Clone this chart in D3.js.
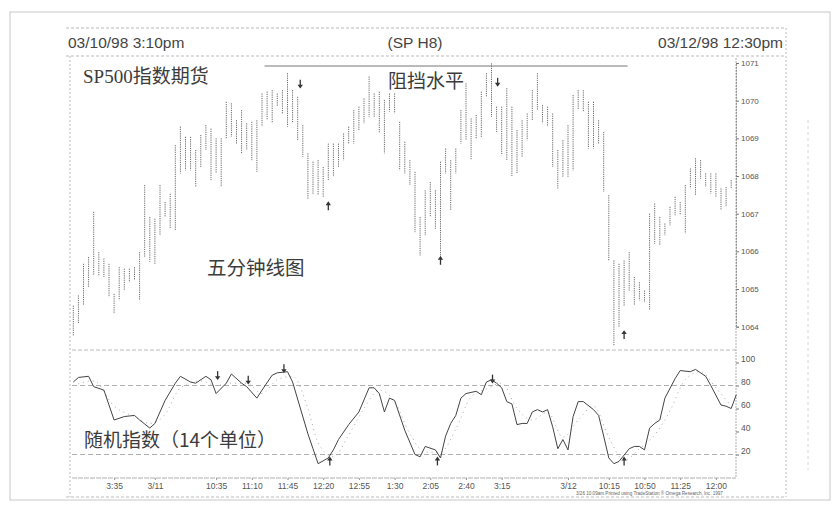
<!DOCTYPE html>
<html><head><meta charset="utf-8">
<script src="https://cdn.jsdelivr.net/npm/d3@7"></script>
<style>body{margin:0;background:#fff}svg{display:block}</style>
</head><body><svg id="c" width="840" height="513"></svg>
<script>
// ---------------- DATA ----------------
const highs = [
1064.56,1064.83,1065.67,1065.85,1067.05,1065.98,1065.81,1065.67,1064.87,1065.58,
1065.54,1065.54,1065.58,1065.98,1067.76,1066.91,1066.87,1067.76,1067.31,1067.53,
1068.82,1069.31,1069.04,1069.04,1068.69,1069.09,1069.35,1069.26,1069.00,1069.00,
1069.97,1069.93,1069.48,1069.75,1069.40,1069.44,1069.48,1070.19,1070.24,1070.28,
1070.19,1070.28,1070.73,1070.28,1070.10,1069.35,1068.60,1068.38,1068.42,1068.24,
1068.86,1068.86,1068.86,1069.13,1069.31,1069.75,1069.84,1070.06,1070.64,1070.19,
1070.24,1070.02,1070.19,1070.19,1069.44,1068.91,1068.42,1068.11,1066.91,1067.62,
1067.84,1067.62,1068.38,1068.73,1068.42,1068.73,1069.75,1070.46,1069.53,1069.62,
1070.24,1070.73,1070.99,1069.84,1069.84,1070.33,1069.84,1069.22,1069.48,1069.66,
1070.28,1070.73,1069.88,1069.84,1069.66,1068.69,1068.95,1069.35,1070.15,1070.28,
1070.28,1069.97,1069.97,1069.48,1069.17,1067.49,1065.76,1065.67,1065.76,1065.98,
1065.32,1065.18,1064.96,1067.00,1067.27,1066.91,1066.74,1067.18,1067.45,1067.31,
1067.76,1068.20,1068.47,1068.42,1068.07,1068.07,1068.07,1067.67,1067.71,1067.89];
const lows = [
1063.77,1064.08,1064.56,1065.05,1065.36,1065.36,1065.32,1064.79,1064.34,1064.70,
1064.96,1065.18,1065.23,1064.70,1065.85,1065.72,1065.67,1066.43,1066.91,1066.60,
1066.56,1068.07,1068.15,1068.15,1067.71,1068.24,1068.69,1067.89,1068.07,1067.71,
1069.00,1069.04,1068.86,1068.60,1068.69,1068.42,1068.11,1069.31,1069.48,1069.40,
1069.84,1069.66,1069.31,1069.40,1068.95,1068.51,1067.40,1067.53,1067.49,1067.45,
1067.89,1067.98,1068.24,1068.42,1068.86,1068.86,1069.22,1069.40,1069.57,1069.57,
1069.13,1068.60,1069.71,1069.66,1068.15,1068.07,1067.76,1066.51,1065.89,1066.43,
1066.91,1066.60,1065.85,1068.07,1067.09,1068.07,1068.86,1068.95,1068.42,1069.00,
1069.04,1070.10,1069.57,1069.17,1068.55,1068.42,1067.98,1068.07,1068.51,1068.95,
1069.48,1069.75,1069.40,1069.31,1068.24,1067.67,1067.98,1067.98,1068.15,1069.75,
1069.71,1068.73,1068.73,1068.86,1067.58,1065.76,1063.50,1063.99,1064.56,1064.96,
1064.56,1064.70,1064.65,1064.43,1066.20,1066.16,1066.43,1066.69,1066.96,1066.96,
1066.47,1067.67,1067.49,1067.93,1067.71,1067.53,1067.45,1067.09,1067.18,1067.67];

// stochastic %K (bar index, value)
const kIdx = [0,1,3,4,6,8,10,12,13,15,16,18,20,21,23,24,26,27,28,30,31,33,34,36,37,39,40,42,43,46,47,48,50,51,52,54,56,58,59,60,61,62,63,65,67,68,69,71,72,73,74,75,76,77,79,80,81,82,83,84,85,86,87,88,89,90,91,92,93,94,95,96,97,98,99,100,102,103,104,105,106,107,109,110,111,112,113,114,115,116,118,119,121,122,124,125,127,128,129,130];
const kVal = [83,87,88,79,76,50,53,54,50,43,47,67,82,88,83,82,88,85,73,82,90,82,79,69,76,89,91,92,83,38,25,12,17,24,33,46,57,78,78,73,57,69,67,41,20,18,27,24,17,36,47,54,69,73,75,72,83,85,82,78,66,64,46,47,47,57,59,57,59,44,25,33,24,53,66,66,59,54,36,17,12,14,25,27,27,24,43,47,50,69,86,93,92,94,88,80,63,62,60,72];
// stochastic %D (bar index, value)
const dIdx = [0,4,8,12,15,18,21,25,28,31,34,37,40,43,46,48,51,54,57,60,63,66,69,72,75,78,81,84,87,90,93,96,99,102,105,108,111,114,117,120,123,126,129];
const dVal = [80,84,62,53,47,55,78,84,80,82,82,73,85,88,60,30,18,37,60,76,66,38,22,22,42,70,77,82,60,50,57,35,50,62,35,15,25,37,58,85,92,78,62];

const priceTicks = [1064,1065,1066,1067,1068,1069,1070,1071];
const stochTicks = [20,40,60,80,100];
const timeTickIdx = [8,16,28,35,42,49,56,63,70,77,84,97,105,112,119,126];
const timeTickLbl = ["3:35","3/11","10:35","11:10","11:45","12:20","12:55","1:30","2:05","2:40","3:15","3/12","10:15","10:50","11:25","12:00"];

const resistance = {from:37.5, to:108.7, price:1070.92};
const priceArrows = [{i:44.5,p:1070.45,dir:"down"},{i:50,p:1067.2,dir:"up"},{i:72,p:1065.75,dir:"up"},{i:83.2,p:1070.5,dir:"down"},{i:108,p:1063.78,dir:"up"}];
const stochArrows = [{i:28.3,v:89,dir:"down"},{i:34.3,v:85,dir:"down"},{i:41.3,v:95,dir:"down"},{i:50.3,v:14,dir:"up"},{i:71.4,v:14,dir:"up"},{i:82.2,v:86,dir:"down"},{i:108,v:14,dir:"up"}];

const headerLeft = "03/10/98 3:10pm", headerMid = "(SP H8)", headerRight = "03/12/98 12:30pm";

// ---------------- DRAW ----------------
const svg = d3.select("#c");
const ink = "#3c3c3c";
const x = d3.scaleLinear().domain([0,130]).range([73.3,736.3]);
const y = d3.scaleLinear().domain([1064,1071]).range([326.7,63]);
const ys = d3.scaleLinear().domain([0,100]).range([477.5,362.5]);

// frames
svg.append("rect").attr("x",10).attr("y",12).attr("width",820).attr("height",488)
  .attr("fill","none").attr("stroke","#c8c8c8").attr("stroke-width",1);
const dash = (x1,y1,x2,y2,da="3,2",c="#aaa") => svg.append("line").attr("x1",x1).attr("y1",y1).attr("x2",x2).attr("y2",y2)
  .attr("stroke",c).attr("stroke-width",0.8).attr("stroke-dasharray",da);
dash(66,28,786,28);
dash(66,56,786,56);
dash(66,497,786,497);
dash(70,56,70,497,"2,2");
dash(786,28,786,497,"2,2");
dash(72,350,736,350,"4,2");
dash(72,478,736,478,"5,1","#999");
dash(808,120,808,470,"3,3","#ccc");

// header texts
const hdr = svg.append("g").attr("font-family","Liberation Sans, Arial, sans-serif").attr("font-size",15.5).attr("fill","#444");
hdr.append("text").attr("x",68).attr("y",48).text(headerLeft);
hdr.append("text").attr("x",415).attr("y",48).attr("text-anchor","middle").text(headerMid);
hdr.append("text").attr("x",783).attr("y",48).attr("text-anchor","end").text(headerRight);

// right axis for price
const axP = d3.axisRight(y).tickValues(priceTicks).tickSize(3).tickFormat(d3.format("d"));
const gP = svg.append("g").attr("transform","translate(736,0)").call(axP);
gP.select(".domain").attr("stroke","#888").attr("stroke-dasharray","2,1");
gP.selectAll(".tick line").attr("stroke","#777");
gP.selectAll("text").attr("font-family","Liberation Sans, Arial, sans-serif").attr("font-size",8).attr("fill","#555").attr("x",5);
svg.append("line").attr("x1",736).attr("x2",736).attr("y1",58).attr("y2",478).attr("stroke","#999").attr("stroke-dasharray","2,1").attr("stroke-width",0.8);

// stoch axis
const axS = d3.axisRight(ys).tickValues(stochTicks).tickSize(3).tickFormat(d3.format("d"));
const gS = svg.append("g").attr("transform","translate(736,0)").call(axS);
gS.select(".domain").remove();
gS.selectAll(".tick line").attr("stroke","#777");
gS.selectAll("text").attr("font-family","Liberation Sans, Arial, sans-serif").attr("font-size",8.5).attr("fill","#555").attr("x",5).attr("dy","-0.1em");

// time axis
const axT = d3.axisBottom(x).tickValues(timeTickIdx).tickSize(2).tickFormat((d,i)=>timeTickLbl[i]);
const gT = svg.append("g").attr("transform","translate(0,478)").call(axT);
gT.select(".domain").remove();
gT.selectAll(".tick line").attr("stroke","#999");
gT.selectAll("text").attr("font-family","Liberation Sans, Arial, sans-serif").attr("font-size",8.5).attr("fill","#555").attr("y",5);

// resistance line
svg.append("line").attr("x1",x(resistance.from)).attr("x2",x(resistance.to))
  .attr("y1",y(resistance.price)).attr("y2",y(resistance.price)).attr("stroke","#777").attr("stroke-width",1);

// price bars
svg.append("g").selectAll("line").data(highs).join("line")
  .attr("x1",(d,i)=>x(i)).attr("x2",(d,i)=>x(i))
  .attr("y1",d=>y(d)).attr("y2",(d,i)=>y(lows[i]))
  .attr("stroke","#6a6a6a").attr("stroke-width",1).attr("stroke-dasharray","1.2,1");

// arrows
function arrow(g, cx, cy, dir){
  const s = dir==="down" ? 1 : -1;
  g.append("path").attr("d",`M${cx},${cy-4*s} L${cx},${cy+3*s}`).attr("stroke","#333").attr("stroke-width",1.3);
  g.append("path").attr("d",`M${cx-2.7},${cy+1*s} L${cx+2.7},${cy+1*s} L${cx},${cy+4.8*s} Z`).attr("fill","#333");
}
const ga = svg.append("g");
priceArrows.forEach(a=>arrow(ga, x(a.i), y(a.p), a.dir));
stochArrows.forEach(a=>arrow(ga, x(a.i), ys(a.v), a.dir));

// stoch reference lines
[80,20].forEach(v=>dash(72,ys(v),736,ys(v),"5,3","#999"));

// %D dotted
const lineD = d3.line().x((d,i)=>x(dIdx[i])).y(d=>ys(d)).curve(d3.curveMonotoneX);
svg.append("path").attr("d",lineD(dVal)).attr("fill","none").attr("stroke","#aaa").attr("stroke-width",1).attr("stroke-dasharray","1,4");
// %K solid
const lineK = d3.line().x((d,i)=>x(kIdx[i])).y(d=>ys(d));
svg.append("path").attr("d",lineK(kVal)).attr("fill","none").attr("stroke","#444").attr("stroke-width",1);

// annotations
const ann = svg.append("g").attr("fill",ink).attr("font-size",19);
ann.append("text").attr("x",83).attr("y",83).attr("font-family","Liberation Serif, serif").text("SP500")
  .append("tspan").attr("font-family","Noto Sans CJK SC").text("指数期货");
ann.append("text").attr("x",388).attr("y",88).attr("font-family","Noto Sans CJK SC").text("阻挡水平");
ann.append("text").attr("x",207).attr("y",275).attr("font-family","Noto Sans CJK SC").attr("font-size",19.5).text("五分钟线图");
ann.append("text").attr("x",84).attr("y",447).attr("font-family","Noto Sans CJK SC").text("随机指数（14个单位）");

// footer print text
svg.append("text").attr("x",576).attr("y",495).attr("font-family","Liberation Sans, Arial, sans-serif").attr("font-size",4.6).attr("fill","#666")
  .text("3/26 10:09am Printed using TradeStation \u00AE Omega Research, Inc. 1997");
</script></body></html>
